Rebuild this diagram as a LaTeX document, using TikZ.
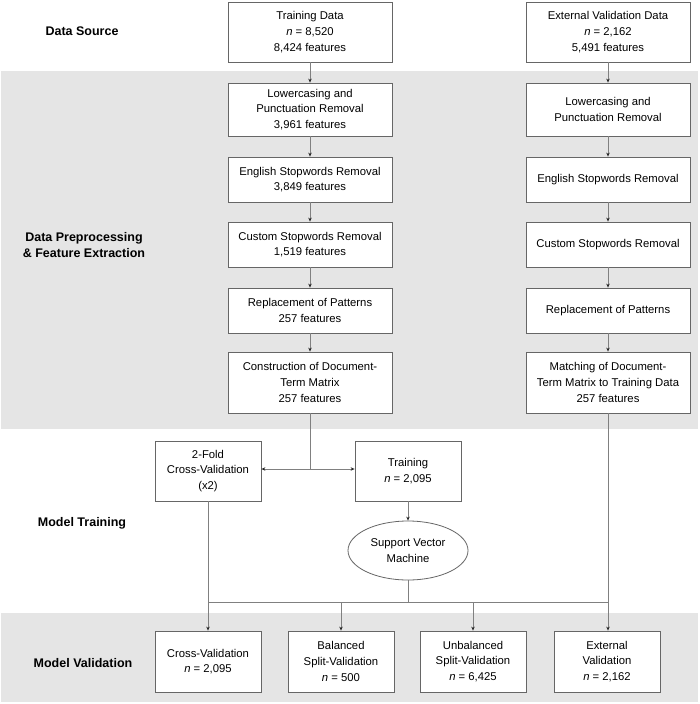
\documentclass[tikz,border=0pt]{standalone}
\usepackage{fontspec}
\setmainfont{Liberation Sans}
\usetikzlibrary{shapes.geometric,arrows.meta}
\begin{document}
\begin{tikzpicture}[x=1pt, y=-1pt, >={Stealth[length=4pt,width=3.5pt,color=black!85]},
	box/.style={draw=black!60, fill=white, line width=0.8pt, align=center, inner sep=2pt, font=\fontsize{11.3}{15.7}\selectfont},
	colbox/.style={box, minimum width=164pt},
	smallbox/.style={box, minimum width=106pt, minimum height=60pt},
	phase/.style={align=center, font=\fontsize{12.5}{16}\selectfont\bfseries},
	link/.style={draw=black!50, line width=0.8pt}]
			\useasboundingbox (0,0) rectangle (700,704);
			\fill[gray!20] (1,71) rectangle (698,429);
			\fill[gray!20] (1,613) rectangle (698,702);
			% phase labels
			\node[phase] (src) at (82,31) {Data Source};
			\node[phase] (prep) at (84,245) {Data Preprocessing\\\& Feature Extraction};
			\node[phase] (mtrain) at (82,523) {Model Training};
			\node[phase] (mval) at (83,663) {Model Validation};
			% training data column
			\node[colbox, minimum height=60pt] (trdata) at (310,32) {Training Data\\\textit{n} = 8,520\\8,424 features};
			\node[colbox, minimum height=53pt] (lowL) at (310,109.5) {Lowercasing and\\Punctuation Removal\\3,961 features};
			\node[colbox, minimum height=45pt] (engL) at (310,179.5) {English Stopwords Removal\\3,849 features};
			\node[colbox, minimum height=45pt] (custL) at (310,244.5) {Custom Stopwords Removal\\1,519 features};
			\node[colbox, minimum height=45pt] (replL) at (310,310.5) {Replacement of Patterns\\257 features};
			\node[colbox, minimum height=61pt] (dtm) at (310,382.5) {Construction of Document-\\Term Matrix\\257 features};
			% external data column
			\node[colbox, minimum height=60pt] (exdata) at (608,32) {External Validation Data\\\textit{n} = 2,162\\5,491 features};
			\node[colbox, minimum height=53pt] (lowR) at (608,109.5) {Lowercasing and\\Punctuation Removal};
			\node[colbox, minimum height=45pt] (engR) at (608,179.5) {English Stopwords Removal};
			\node[colbox, minimum height=45pt] (custR) at (608,244.5) {Custom Stopwords Removal};
			\node[colbox, minimum height=45pt] (replR) at (608,310.5) {Replacement of Patterns};
			\node[colbox, minimum height=61pt] (match) at (608,382.5) {Matching of Document-\\Term Matrix to Training Data\\257 features};
			% model training
			\node[smallbox] (fold) at (208,471) {2-Fold\\Cross-Validation\\(x2)};
			\node[smallbox] (train) at (408,471) {Training\\\textit{n} = 2,095};
			\node[box, ellipse, minimum width=120pt, minimum height=59pt, inner sep=0pt] (svm) at (408,550.5) {Support Vector\\Machine};
			% model validation
			\node[smallbox, minimum height=61pt] (cv) at (208,661.5) {Cross-Validation\\\textit{n} = 2,095};
			\node[smallbox, minimum height=61pt] (bal) at (341,661.5) {Balanced\\Split-Validation\\\textit{n} = 500};
			\node[smallbox, minimum height=61pt] (unbal) at (473,661.5) {Unbalanced\\Split-Validation\\\textit{n} = 6,425};
			\node[smallbox, minimum height=61pt] (ext) at (607,661.5) {External\\Validation\\\textit{n} = 2,162};
			% connectors
			\draw[link,->] (trdata) -- (lowL);
			\draw[link,->] (lowL) -- (engL);
			\draw[link,->] (engL) -- (custL);
			\draw[link,->] (custL) -- (replL);
			\draw[link,->] (replL) -- (dtm);
			\draw[link,->] (exdata) -- (lowR);
			\draw[link,->] (lowR) -- (engR);
			\draw[link,->] (engR) -- (custR);
			\draw[link,->] (custR) -- (replR);
			\draw[link,->] (replR) -- (match);
			\coordinate (split) at (310,469);
			\draw[link] (dtm.south) -- (split);
			\draw[link,->] (split) -- (fold.east |- split);
			\draw[link,->] (split) -- (train.west |- split);
			\draw[link,->] (train) -- (svm);
			\coordinate (busL) at (208,602);
			\coordinate (busR) at (608,602);
			\draw[link] (svm.south) -- (svm.south |- busL);
			\draw[link] (busL) -- (busR);
			\draw[link,->] (fold) -- (cv);
			\draw[link,->] (bal.north |- busL) -- (bal.north);
			\draw[link,->] (unbal.north |- busL) -- (unbal.north);
			\draw[link,->] (match.south) -- (match.south |- ext.north);
		\end{tikzpicture}
\end{document}
